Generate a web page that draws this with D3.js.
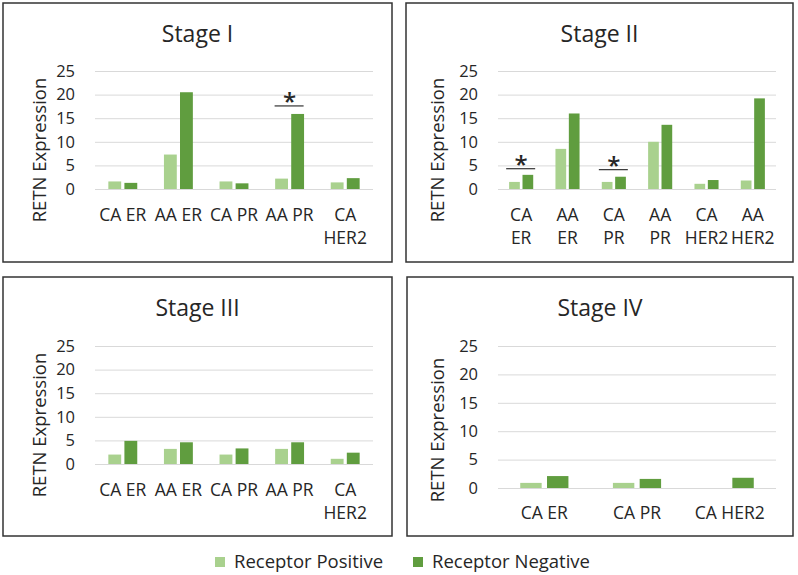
<!DOCTYPE html>
<html>
  <head>
    <title>RETN Expression by Stage</title>
    <script src="https://cdn.jsdelivr.net/npm/d3@7/dist/d3.min.js"></script>
    <style>
      body { margin: 0; background: #fff; }
      text { font-family: "Open Sans", sans-serif; fill: #262626; }
    </style>
  </head>
  <body>
    <svg width="798" height="575" id="mainsvg"></svg>
    <script>
      const svg = d3.select('#mainsvg');

      // data
      const series = ['Receptor Positive', 'Receptor Negative'];
      const yTicks = [0, 5, 10, 15, 20, 25];

      const stage1Cats = ['CA ER', 'AA ER', 'CA PR', 'AA PR', 'CA HER2'];
      const stage1Pos = [1.6, 7.3, 1.6, 2.2, 1.4];
      const stage1Neg = [1.3, 20.5, 1.2, 15.9, 2.3];

      const stage2Cats = ['CA ER', 'AA ER', 'CA PR', 'AA PR', 'CA HER2', 'AA HER2'];
      const stage2Pos = [1.5, 8.5, 1.5, 10.0, 1.1, 1.8];
      const stage2Neg = [3.0, 16.0, 2.6, 13.6, 1.9, 19.2];

      const stage3Cats = ['CA ER', 'AA ER', 'CA PR', 'AA PR', 'CA HER2'];
      const stage3Pos = [2.0, 3.2, 2.0, 3.2, 1.1];
      const stage3Neg = [4.9, 4.6, 3.3, 4.6, 2.4];

      const stage4Cats = ['CA ER', 'CA PR', 'CA HER2'];
      const stage4Pos = [0.9, 0.9, 0];
      const stage4Neg = [2.1, 1.6, 1.8];

      // significance bars: category and the level of the line
      const stage1Sig = [{cat: 'AA PR', level: 17.6}];
      const stage2Sig = [{cat: 'CA ER', level: 4.3}, {cat: 'CA PR', level: 4.1}];

      const colors = ['#a9d18e', '#609d3f'];

      const panels = [
        {title: 'Stage I', cats: stage1Cats, pos: stage1Pos, neg: stage1Neg, sig: stage1Sig,
         box: [3, 3, 392, 262], plot: [95, 71, 373, 189], wrap: ['CA HER2'], labelY: 215,
         axisTitleX: 37, axisTitleY: 150, titleY: 34},
        {title: 'Stage II', cats: stage2Cats, pos: stage2Pos, neg: stage2Neg, sig: stage2Sig,
         box: [406, 3, 793, 262], plot: [498, 71, 776, 189], wrap: stage2Cats, labelY: 215,
         axisTitleX: 32, axisTitleY: 150, titleY: 34},
        {title: 'Stage III', cats: stage3Cats, pos: stage3Pos, neg: stage3Neg, sig: [],
         box: [3, 277, 392, 536], plot: [95, 346, 373, 464], wrap: ['CA HER2'], labelY: 490,
         axisTitleX: 37, axisTitleY: 425, titleY: 308},
        {title: 'Stage IV', cats: stage4Cats, pos: stage4Pos, neg: stage4Neg, sig: [],
         box: [407, 277, 793, 536], plot: [498, 346, 776, 488], wrap: [], labelY: 513,
         axisTitleX: 31, axisTitleY: 430, titleY: 308}
      ];

      const drawPanel = function(p) {
        const g = svg.append('g');
        const [bx0, by0, bx1, by1] = p.box;
        const [px0, py0, px1, py1] = p.plot;

        g.append('rect')
          .attr('x', bx0).attr('y', by0)
          .attr('width', bx1 - bx0).attr('height', by1 - by0)
          .attr('fill', 'none')
          .attr('stroke', '#333')
          .attr('stroke-width', 1.5);

        g.append('text')
          .attr('x', (bx0 + bx1) / 2)
          .attr('y', p.titleY)
          .attr('dy', '0.35em')
          .attr('text-anchor', 'middle')
          .style('font-size', '23px')
          .text(p.title);

        const yScale = d3.scaleLinear().domain([0, 25]).range([py1, py0]);
        const xScale = d3.scaleBand().domain(p.cats).range([px0, px1])
          .paddingInner(0.48).paddingOuter(0.24);
        const xInner = d3.scaleBand().domain(series).range([0, xScale.bandwidth()])
          .paddingInner(0.2);

        // gridlines + tick labels
        const yAxis = d3.axisLeft(yScale)
          .tickValues(yTicks)
          .tickSize(-(px1 - px0))
          .tickPadding(20);
        const yAxisGroup = g.append('g')
          .attr('transform', `translate(${px0},0)`)
          .call(yAxis);
        yAxisGroup.select('.domain').remove();
        yAxisGroup.selectAll('.tick line').attr('stroke', '#d9d9d9');
        yAxisGroup.selectAll('.tick text')
          .style('font-size', '16.5px')
          .style('font-family', '"Open Sans", sans-serif')
          .attr('fill', '#262626');

        g.append('text')
          .attr('transform', `translate(${bx0 + p.axisTitleX},${p.axisTitleY}) rotate(-90)`)
          .attr('dy', '0.35em')
          .attr('text-anchor', 'middle')
          .style('font-size', '18.5px')
          .text('RETN Expression');

        const rows = p.cats.map((c, i) => ({cat: c, values: [p.pos[i], p.neg[i]]}));
        const groups = g.selectAll('.grp')
          .data(rows)
          .join('g')
          .attr('class', 'grp')
          .attr('transform', d => `translate(${xScale(d.cat)},0)`);
        groups.selectAll('rect')
          .data(d => d.values.map((v, i) => ({key: series[i], value: v, i: i})))
          .join('rect')
          .attr('x', d => xInner(d.key))
          .attr('y', d => yScale(d.value))
          .attr('width', xInner.bandwidth())
          .attr('height', d => yScale(0) - yScale(d.value))
          .attr('fill', d => colors[d.i]);

        // category labels
        p.cats.forEach(c => {
          const cx = xScale(c) + xScale.bandwidth() / 2;
          const parts = p.wrap.includes(c) ? c.split(' ') : [c];
          const t = g.append('text')
            .attr('x', cx)
            .attr('y', p.labelY)
            .attr('text-anchor', 'middle')
            .style('font-size', '17.5px');
          parts.forEach((s, k) => {
            t.append('tspan').attr('x', cx).attr('dy', k === 0 ? '0.35em' : '23px').text(s);
          });
        });

        // significance markers
        p.sig.forEach(s => {
          const cx = xScale(s.cat) + xScale.bandwidth() / 2;
          const ly = yScale(s.level);
          g.append('line')
            .attr('x1', cx - 15).attr('x2', cx + 14)
            .attr('y1', ly).attr('y2', ly)
            .attr('stroke', '#333')
            .attr('stroke-width', 1.2);
          g.append('text')
            .attr('x', cx)
            .attr('y', ly + 4)
            .attr('text-anchor', 'middle')
            .style('font-size', '24px')
            .style('font-weight', '600')
            .text('*');
        });
      };

      panels.forEach(drawPanel);

      // legend
      const legendItems = [{x: 215, label: series[0], color: colors[0]},
                           {x: 413, label: series[1], color: colors[1]}];
      const legend = svg.append('g');
      legendItems.forEach(d => {
        legend.append('rect')
          .attr('x', d.x).attr('y', 557)
          .attr('width', 10).attr('height', 10)
          .attr('fill', d.color);
        legend.append('text')
          .attr('x', d.x + 19).attr('y', 562)
          .attr('dy', '0.35em')
          .style('font-size', '18.5px')
          .text(d.label);
      });
    </script>
  </body>
</html>
